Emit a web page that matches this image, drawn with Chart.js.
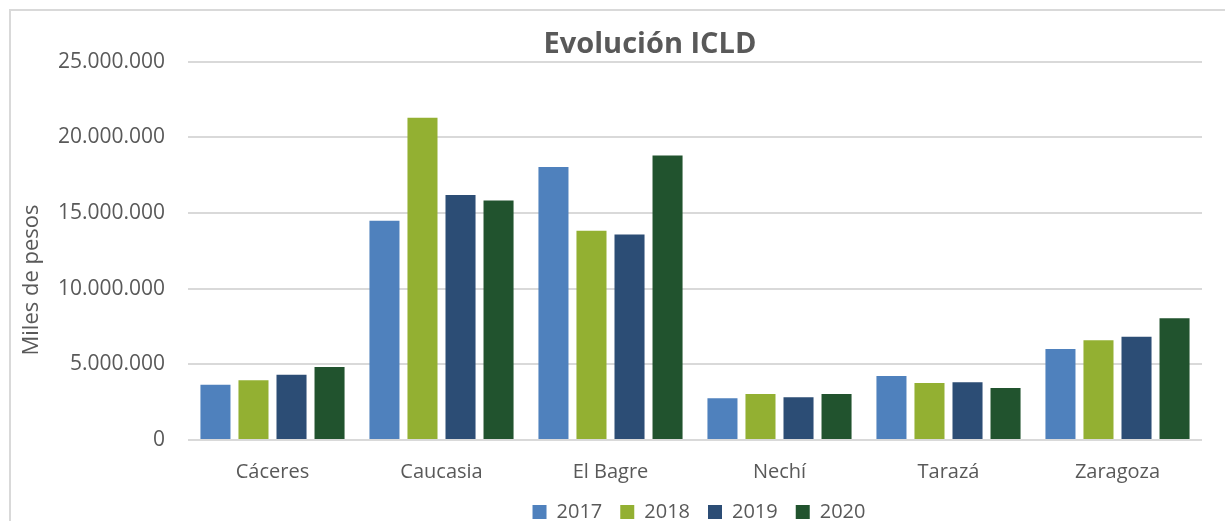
<!DOCTYPE html>
<html>
<head>
<meta charset="utf-8">
<script src="https://cdn.jsdelivr.net/npm/chart.js@4.4.1/dist/chart.umd.min.js"></script>
<style>
  html, body { margin: 0; padding: 0; background: #ffffff; overflow: hidden; width: 1225px; height: 521px; }
  #wrap { position: absolute; left: 9px; top: 9px; width: 1278px; height: 521px; border: 2px solid #d9d9d9; background: #fff; }
  #c { display: block; }
</style>
</head>
<body>
<div id="wrap"><canvas id="c" width="1278" height="521"></canvas></div>
<script>
const categories = ['Cáceres', 'Caucasia', 'El Bagre', 'Nechí', 'Tarazá', 'Zaragoza'];
const seriesNames = ['2017', '2018', '2019', '2020'];
const values2017 = [3660000, 14500000, 18040000, 2760000, 4230000, 6020000];
const values2018 = [3950000, 21300000, 13840000, 3040000, 3770000, 6590000];
const values2019 = [4320000, 16200000, 13580000, 2820000, 3810000, 6830000];
const values2020 = [4830000, 15830000, 18800000, 3040000, 3440000, 8050000];
const tickValues = [0, 5000000, 10000000, 15000000, 20000000, 25000000];
const tickLabels = ['0', '5.000.000', '10.000.000', '15.000.000', '20.000.000', '25.000.000'];
const colors = ['#4F81BD', '#93B032', '#2C4D75', '#21532E'];
const chartTitle = 'Evolución ICLD';
const yAxisTitle = 'Miles de pesos';

const textColor = '#595959';
const seriesValues = [values2017, values2018, values2019, values2020];

const yTitlePlugin = {
  id: 'yTitlePlugin',
  afterLayout(chart) {
    if (chart.legend) {
      chart.legend.left += 4;
      chart.legend.right += 4;
    }
  },
  afterDraw(chart) {
    const ctx = chart.ctx;
    ctx.save();
    ctx.translate(21, 269);
    ctx.rotate(-Math.PI / 2);
    ctx.font = '22px "Open Sans"';
    ctx.fillStyle = textColor;
    ctx.textAlign = 'center';
    ctx.textBaseline = 'middle';
    ctx.fillText(yAxisTitle, 0, 0);
    ctx.restore();
  }
};

new Chart(document.getElementById('c'), {
  type: 'bar',
  data: {
    labels: categories,
    datasets: seriesNames.map((name, i) => ({
      label: name,
      data: seriesValues[i],
      backgroundColor: colors[i],
      borderWidth: 0,
      categoryPercentage: 0.9,
      barPercentage: 0.79
    }))
  },
  options: {
    responsive: false,
    animation: false,
    layout: { padding: 0 },
    plugins: {
      title: {
        display: true,
        text: chartTitle,
        color: textColor,
        font: { family: 'Open Sans', size: 29, weight: 'bold' },
        padding: { top: 16, bottom: 0 }
      },
      legend: {
        display: true,
        position: 'bottom',
        fullSize: false,
        labels: {
          color: textColor,
          font: { family: 'Open Sans', size: 20 },
          boxWidth: 14,
          boxHeight: 14,
          padding: 18
        }
      },
      tooltip: { enabled: false }
    },
    scales: {
      x: {
        grid: { display: false },
        border: { display: false },
        ticks: {
          color: textColor,
          font: { family: 'Open Sans', size: 20 },
          padding: 12
        },
        afterFit(s) { s.height = 44; }
      },
      y: {
        min: 0,
        max: 25000000,
        afterBuildTicks(s) { s.ticks = tickValues.map(v => ({ value: v })); },
        grid: { color: '#d9d9d9', lineWidth: 2, drawTicks: false },
        border: { display: false },
        ticks: {
          color: textColor,
          font: { family: 'Open Sans', size: 21 },
          padding: 23,
          callback(value) {
            const i = tickValues.indexOf(value);
            return i >= 0 ? tickLabels[i] : '';
          }
        },
        afterFit(s) { s.width = 177; }
      },
      r: {
        type: 'linear',
        position: 'right',
        display: true,
        grid: { display: false },
        border: { display: false },
        ticks: { display: false },
        afterFit(s) { s.width = 87; }
      }
    }
  },
  plugins: [yTitlePlugin]
});
</script>
</body>
</html>
